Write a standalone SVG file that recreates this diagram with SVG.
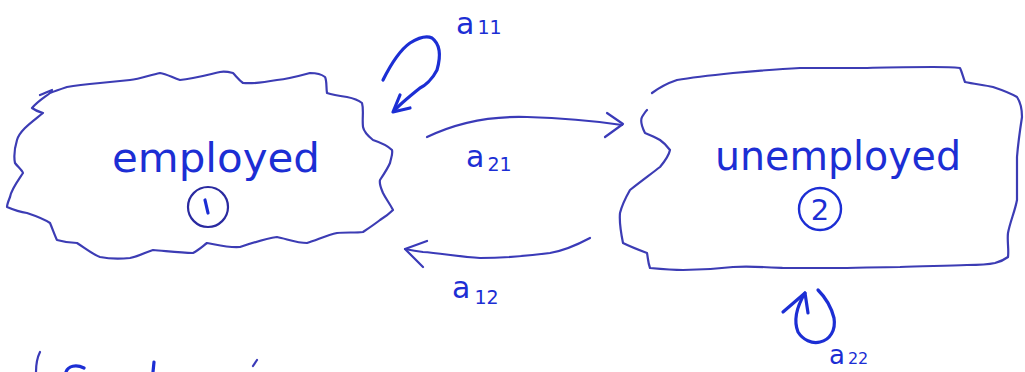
<svg xmlns="http://www.w3.org/2000/svg" width="1025" height="372" viewBox="0 0 1025 372">
<style>
.cloud{fill:none;stroke:#3c3cb4;stroke-width:2.2;stroke-linejoin:round;stroke-linecap:round}
.ink{fill:none;stroke:#1c2ed4;stroke-width:3.2;stroke-linecap:round;stroke-linejoin:round}
.thin{fill:none;stroke:#3a3ab8;stroke-width:2.2;stroke-linecap:round;stroke-linejoin:round}
.lbl{font-family:"DejaVu Sans",sans-serif;fill:#1c2ed4}
.big{font-size:40px}
.sub{font-size:19px}
.a{font-size:30px}
</style>
<rect width="1025" height="372" fill="#ffffff"/>
<g id="node-employed">
<path class="cloud" d="M50,93 C45,97 38,101 32,108 C36,111 40,112 43,113 C32,122 20,130 17,140 C14,150 14,158 15,163 C18,167 22,170 23,173 C17,182 11,190 10,197 C8,202 7,205 7,207 C14,210 20,212 27,213 C36,216 44,219 50,223 C53,230 55,236 57,240 C64,242 70,243 77,243 C85,248 92,254 100,257 C110,259 120,259 130,258 C140,256 146,252 153,250 C166,251 180,253 193,253 C199,250 203,246 207,243 C218,245 229,248 240,247 C252,243 264,239 277,237 C287,239 297,243 307,243 C317,240 327,235 337,233 C346,232 355,233 363,232 C369,228 375,224 380,220 C385,217 390,213 393,210 C390,204 386,199 383,193 C381,188 379,184 380,180 C384,174 388,168 390,163 C391,158 393,154 392,150 C387,145 379,142 373,140 C368,136 364,132 363,127 C362,118 364,110 362,103 C357,99 352,98 347,97 C340,96 333,95 327,93 C326,87 327,81 325,77 C320,73 315,73 310,73 C299,76 288,79 277,80 C266,82 254,84 243,83 C239,80 236,76 233,73 C229,72 224,71 220,72 C207,75 193,79 180,80 C173,78 167,74 160,73 C150,75 140,79 130,80 C120,81 110,82 100,83 C89,84 78,85 67,87 C61,89 55,91 50,93 M40,95 C45,93 49,91 52,90"/>
<text class="lbl big" x="112" y="172" textLength="208" lengthAdjust="spacingAndGlyphs">employed</text>
<circle cx="208" cy="207" r="20" fill="none" stroke="#2a2aa0" stroke-width="2.2"/>
<path class="ink" d="M205,200 L208,213" stroke="#2a2aa0"/>
</g>
<g id="node-unemployed">
<path class="cloud" d="M652,93 C660,87 668,83 677,80 C695,77 714,75 733,73 C755,71 778,69 800,68 C822,68 845,68 867,68 C889,67 911,67 933,67 C942,67 951,67 960,68 C962,72 963,77 965,82 C974,84 984,85 993,87 C1002,90 1010,93 1017,97 C1021,103 1022,110 1022,117 C1020,130 1018,144 1017,157 C1017,171 1017,186 1017,200 C1015,211 1010,222 1008,233 C1007,241 1009,249 1008,257 C1004,260 999,262 995,263 C986,265 976,265 967,265 C945,266 922,266 900,267 C878,267 855,268 833,268 C816,268 800,268 783,268 C766,267 750,266 733,267 C716,269 700,270 683,270 C672,270 661,269 650,268 C648,263 648,258 647,253 C639,250 631,247 623,243 C621,233 619,223 620,213 C622,205 626,197 630,190 C640,182 651,174 660,167 C665,161 669,155 670,150 C667,146 663,142 660,140 C655,137 650,135 645,133 C642,127 640,121 642,117 C644,114 645,112 647,110"/>
<text class="lbl big" x="715" y="170" textLength="246" lengthAdjust="spacingAndGlyphs">unemployed</text>
<circle cx="820" cy="209" r="21" fill="none" stroke="#1c2ed4" stroke-width="2.4"/>
<text class="lbl" x="820" y="220" font-size="29" text-anchor="middle">2</text>
</g>
<g id="connectors">
<g id="edge-a11">
<path class="ink" d="M383,80 C392,62 400,50 410,43 C418,38 426,35 432,38 C440,44 441,56 437,70 C432,80 424,86 420,88 C410,96 400,104 394,111"/>
<path class="ink" d="M400,95 L393,112 L410,108"/>
</g>
<g id="edge-a21">
<path class="thin" d="M427,137 C460,121 495,116 527,117 C565,118 595,121 622,125"/>
<path class="thin" d="M607,113 L623,124 L605,137"/>
</g>
<g id="edge-a12">
<path class="thin" d="M590,238 C575,246 562,251 550,253 C527,256 503,258 480,258 C460,257 440,253 423,252 C415,251 410,250 405,249"/>
<path class="thin" d="M427,241 L405,249 L423,267"/>
</g>
<g id="edge-a22">
<path class="ink" d="M818,290 C826,298 831,306 834,318 C836,330 830,340 820,342 C812,344 803,340 798,332 C794,322 796,308 805,293"/>
<path class="ink" d="M783,312 L805,293 L808,313"/>
</g>
</g>
<g id="labels">
<text class="lbl" x="456" y="34"><tspan class="a">a</tspan><tspan class="sub" dx="3">11</tspan></text>
<text class="lbl" x="466" y="167"><tspan class="a">a</tspan><tspan class="sub" dx="3" dy="4">21</tspan></text>
<text class="lbl" x="452" y="298"><tspan class="a">a</tspan><tspan class="sub" dx="4" dy="6">12</tspan></text>
<text class="lbl" x="829" y="364"><tspan style="font-size:26px">a</tspan><tspan style="font-size:16px" dx="3">22</tspan></text>
</g>
<g id="fragments">
<path class="thin" d="M40,352 C37,358 36,366 36,372"/>
<path class="ink" d="M66,372 C68,366 76,364 84,368"/>
<path class="ink" d="M154,362 L153,372"/>
<path class="thin" d="M257,360 L253,366" stroke-width="1.2"/>
</g>
</svg>
